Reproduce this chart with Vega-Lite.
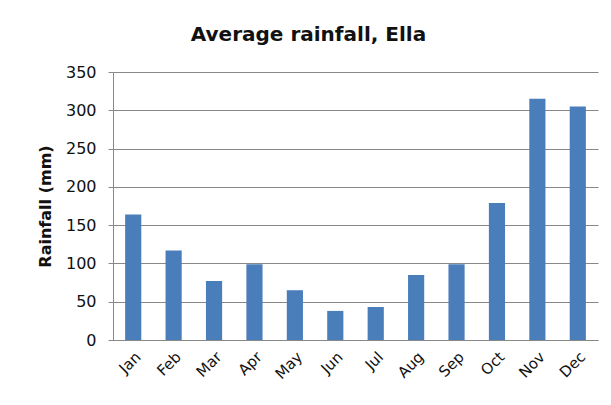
{
  "$schema": "https://vega.github.io/schema/vega-lite/v6.json",
  "width": 485,
  "height": 268,
  "autosize": {"type": "none"},
  "padding": {"left": 113, "top": 72, "right": 13, "bottom": 65},
  "background": "white",
  "title": {
    "text": "Average rainfall, Ella",
    "font": "DejaVu Sans",
    "fontSize": 20,
    "fontWeight": "bold",
    "color": "#111111",
    "anchor": "middle",
    "dx": -47,
    "offset": 19
  },
  "data": {
    "values": [
      {"month": "Jan", "rain": 164},
      {"month": "Feb", "rain": 117},
      {"month": "Mar", "rain": 77},
      {"month": "Apr", "rain": 99},
      {"month": "May", "rain": 65},
      {"month": "Jun", "rain": 38},
      {"month": "Jul", "rain": 43},
      {"month": "Aug", "rain": 85},
      {"month": "Sep", "rain": 99},
      {"month": "Oct", "rain": 179},
      {"month": "Nov", "rain": 315},
      {"month": "Dec", "rain": 305}
    ]
  },
  "mark": {"type": "bar", "color": "#4a7ebb"},
  "encoding": {
    "x": {
      "field": "month",
      "type": "nominal",
      "sort": null,
      "scale": {"paddingInner": 0.6, "paddingOuter": 0.3},
      "axis": {
        "title": null,
        "labelAngle": -45,
        "labelFont": "DejaVu Sans",
        "labelFontSize": 15,
        "labelColor": "#111111",
        "ticks": false,
        "domainColor": "#888888",
        "labelPadding": 9
      }
    },
    "y": {
      "field": "rain",
      "type": "quantitative",
      "scale": {"domain": [0, 350]},
      "axis": {
        "title": "Rainfall (mm)",
        "titleFont": "DejaVu Sans",
        "titleFontSize": 16,
        "titleFontWeight": "bold",
        "titleColor": "#111111",
        "titlePadding": 12,
        "values": [0, 50, 100, 150, 200, 250, 300, 350],
        "labelFont": "DejaVu Sans",
        "labelFontSize": 16,
        "labelColor": "#111111",
        "labelPadding": 12,
        "tickSize": 5,
        "tickColor": "#888888",
        "domainColor": "#888888",
        "gridColor": "#888888",
        "gridOpacity": 1
      }
    }
  },
  "config": {"view": {"stroke": null}}
}
